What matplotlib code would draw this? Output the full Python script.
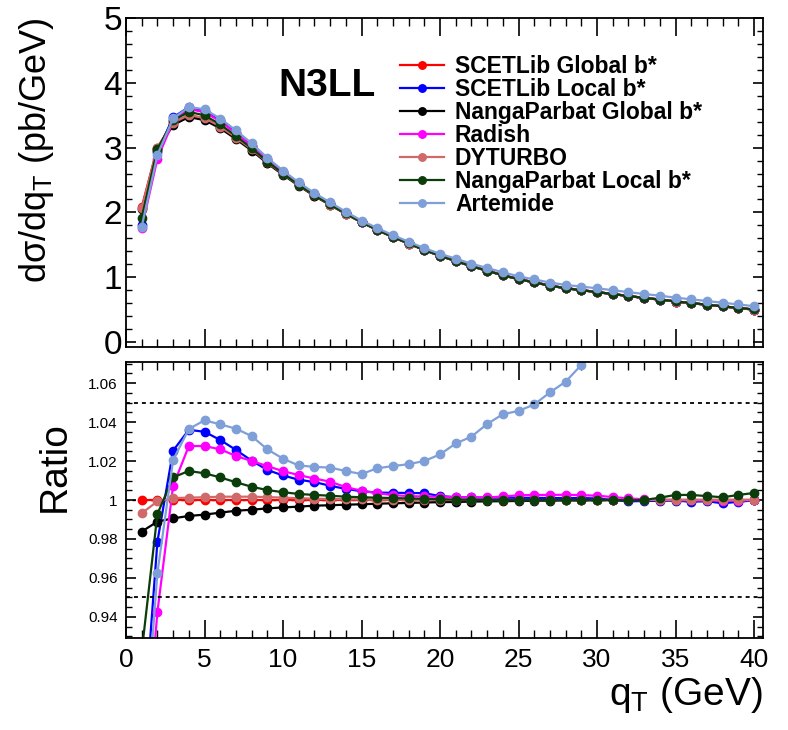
import numpy as np
import matplotlib
matplotlib.use('Agg')
import matplotlib.pyplot as plt
from matplotlib.ticker import MultipleLocator, FuncFormatter

plt.rcParams['font.family'] = ['Liberation Sans', 'DejaVu Sans']
plt.rcParams['mathtext.fontset'] = 'custom'
plt.rcParams['mathtext.rm'] = 'Liberation Sans'
plt.rcParams['mathtext.it'] = 'Liberation Sans:italic'

# ============================================================================
# DATA: qT bins, reference cross section, ratios to SCETLib Global b*
# ============================================================================
qt = np.arange(1, 41)

# SCETLib Global b* spectrum (pb/GeV)
xsec_ref = [2.08, 3.00, 3.38, 3.50, 3.45, 3.32, 3.15, 2.97, 2.77, 2.59,
            2.42, 2.26, 2.12, 1.98, 1.85, 1.73, 1.62, 1.52, 1.42, 1.33,
            1.25, 1.17, 1.10, 1.03, 0.97, 0.92, 0.87, 0.83, 0.80, 0.77,
            0.74, 0.71, 0.68, 0.655, 0.625, 0.60, 0.575, 0.55, 0.525, 0.50]

ratio_scetlib_global = [1.0] * 40
ratio_scetlib_local = [0.87, 0.9786, 1.0253, 1.0360, 1.0350, 1.0308, 1.0257, 1.0202, 1.0154, 1.0126,
                       1.0104, 1.0092, 1.0073, 1.0057, 1.0045, 1.0038, 1.0037, 1.0036, 1.0035, 1.0020,
                       1.0015, 1.0013, 1.0012, 1.0012, 1.0011, 1.0011, 1.0010, 1.0010, 1.0010, 1.0008,
                       1.0000, 0.9993, 0.9995, 0.9996, 0.9997, 0.9991, 0.9994, 0.9983, 0.9991, 0.9998]
ratio_np_global = [0.9838, 0.9889, 0.9906, 0.9918, 0.9925, 0.9935, 0.9945, 0.9950, 0.9957, 0.9962,
                   0.9966, 0.9971, 0.9973, 0.9976, 0.9978, 0.9981, 0.9983, 0.9985, 0.9987, 0.9989,
                   0.9990, 0.9992, 0.9993, 0.9994, 0.9995, 0.9996, 0.9997, 0.9998, 0.9998, 0.9999,
                   1.0000, 1.0000, 1.0000, 1.0000, 1.0000, 1.0000, 1.0000, 1.0000, 1.0000, 1.0000]
ratio_radish = [0.845, 0.9425, 1.0072, 1.0277, 1.0277, 1.0260, 1.0226, 1.0200, 1.0174, 1.0148,
                1.0128, 1.0110, 1.0094, 1.0066, 1.0048, 1.0035, 1.0025, 1.0020, 1.0018, 1.0016,
                1.0014, 1.0014, 1.0013, 1.0018, 1.0024, 1.0026, 1.0026, 1.0027, 1.0025, 1.0022,
                1.0015, 1.0008, 1.0004, 1.0000, 1.0000, 0.9998, 0.9998, 0.9996, 0.9997, 1.0000]
ratio_dyturbo = [0.9932, 0.9993, 1.0010, 1.0012, 1.0014, 1.0017, 1.0017, 1.0017, 1.0015, 1.0012,
                 1.0009, 1.0007, 1.0005, 1.0004, 1.0003, 1.0002, 1.0002, 1.0001, 1.0001, 1.0000,
                 1.0000, 1.0000, 1.0000, 1.0000, 1.0000, 1.0000, 1.0000, 1.0000, 1.0000, 1.0000,
                 1.0000, 1.0000, 1.0000, 1.0000, 1.0000, 1.0000, 1.0000, 1.0000, 1.0000, 1.0000]
ratio_np_local = [0.922, 0.9928, 1.0116, 1.0149, 1.0137, 1.0116, 1.0091, 1.0068, 1.0051, 1.0040,
                  1.0031, 1.0026, 1.0022, 1.0017, 1.0014, 1.0012, 1.0010, 1.0008, 1.0006, 1.0004,
                  1.0002, 1.0001, 1.0000, 1.0000, 1.0000, 1.0000, 1.0000, 1.0000, 1.0000, 1.0000,
                  1.0000, 0.9998, 1.0000, 1.0012, 1.0026, 1.0026, 1.0020, 1.0014, 1.0026, 1.0036]
ratio_artemide = [0.855, 0.9625, 1.0205, 1.0364, 1.0409, 1.0388, 1.0366, 1.0328, 1.0260, 1.0212,
                  1.0177, 1.0170, 1.0166, 1.0149, 1.0133, 1.0163, 1.0174, 1.0184, 1.0200, 1.0234,
                  1.0290, 1.0325, 1.0390, 1.0440, 1.0457, 1.0490, 1.0552, 1.0607, 1.0693, 1.0760,
                  1.0810, 1.0850, 1.0890, 1.0920, 1.0950, 1.0980, 1.1000, 1.1020, 1.1040, 1.1060]

labels = ['SCETLib Global b*', 'SCETLib Local b*', 'NangaParbat Global b*', 'Radish',
          'DYTURBO', 'NangaParbat Local b*', 'Artemide']
colors = ['#ff0000', '#0000ff', '#000000', '#ff00ff', '#d06a6a', '#0b3d0b', '#7f9fd8']
ratios = [ratio_scetlib_global, ratio_scetlib_local, ratio_np_global, ratio_radish,
          ratio_dyturbo, ratio_np_local, ratio_artemide]

# ============================================================================
# FIGURE
# ============================================================================
fig = plt.figure(figsize=(7.88, 7.30), dpi=100)
ax1 = fig.add_axes([126 / 788, 1 - 347 / 730, 637 / 788, 329 / 730])
ax2 = fig.add_axes([126 / 788, 1 - 638 / 730, 637 / 788, 276 / 730])

for lab, col, rat in zip(labels, colors, ratios):
    rat = np.array(rat)
    ax1.plot(qt, np.array(xsec_ref) * rat, color=col, lw=1.6, marker='o', ms=6, label=lab)
    ax2.plot(qt, rat, color=col, lw=1.6, marker='o', ms=6)

# ratio panel reference lines
ax2.axhline(1.0, color='k', lw=1.0, ls=(0, (2.2, 2.2)), zorder=0.5)
ax2.axhline(1.05, color='k', lw=1.3, ls=(0, (2.2, 2.2)))
ax2.axhline(0.95, color='k', lw=1.3, ls=(0, (2.2, 2.2)))

# ---- top panel
ax1.set_xlim(0, 40.57)
ax1.set_ylim(-0.077, 5.0)
ax1.xaxis.set_major_locator(MultipleLocator(5))
ax1.xaxis.set_minor_locator(MultipleLocator(1))
ax1.yaxis.set_major_locator(MultipleLocator(1))
ax1.yaxis.set_minor_locator(MultipleLocator(0.2))
ax1.tick_params(which='both', direction='in', top=True, right=True, labelbottom=False)
ax1.tick_params(axis='x', which='major', length=13, width=1.2)
ax1.tick_params(axis='x', which='minor', length=6, width=1.0)
ax1.tick_params(axis='y', which='major', length=7, width=1.2, labelsize=24, pad=3)
ax1.tick_params(axis='y', which='minor', length=4, width=1.0)
ax1.set_ylabel('dσ/dq$_\\mathrm{T}$ (pb/GeV)', fontsize=26)
ax1.yaxis.set_label_coords(-0.11, 0.60)

ax1.text(0.3155, 0.793, 'N3LL', transform=ax1.transAxes, ha='center', va='center',
         fontsize=28, fontweight='bold')

ax1.legend(loc='upper left', bbox_to_anchor=(400 / 788, 1 - 55 / 730),
           bbox_transform=fig.transFigure, frameon=False,
           prop=dict(family='Liberation Sans', weight='bold', size=16.5),
           labelspacing=0.0, handlelength=1.9, handletextpad=0.5,
           borderpad=0, borderaxespad=0, markerscale=0.9)

# ---- ratio panel
ax2.set_xlim(0, 40.57)
ax2.set_ylim(0.9292, 1.0708)
ax2.xaxis.set_major_locator(MultipleLocator(5))
ax2.xaxis.set_minor_locator(MultipleLocator(1))
ax2.yaxis.set_major_locator(MultipleLocator(0.02))
ax2.yaxis.set_minor_locator(MultipleLocator(0.005))
ax2.yaxis.set_major_formatter(FuncFormatter(lambda v, p: f'{v:g}'))
ax2.tick_params(which='both', direction='in', top=True, right=True)
ax2.tick_params(axis='x', which='major', length=13, width=1.2, labelsize=19, pad=7)
ax2.tick_params(axis='x', which='minor', length=6, width=1.0)
ax2.tick_params(axis='y', which='major', length=7, width=1.2, labelsize=11, pad=6)
ax2.tick_params(axis='y', which='minor', length=4, width=1.0)
ax2.set_ylabel('Ratio', fontsize=28)
ax2.yaxis.set_label_coords(-0.083, 0.62)
ax2.set_xlabel(r'q$_\mathrm{T}$ (GeV)', fontsize=28, loc='right')
ax2.xaxis.label.set_va('center')
ax2.xaxis.set_label_coords(1.0, -0.207)

for ax in (ax1, ax2):
    for sp in ax.spines.values():
        sp.set_linewidth(1.3)

plt.savefig('out.png', dpi=100)
